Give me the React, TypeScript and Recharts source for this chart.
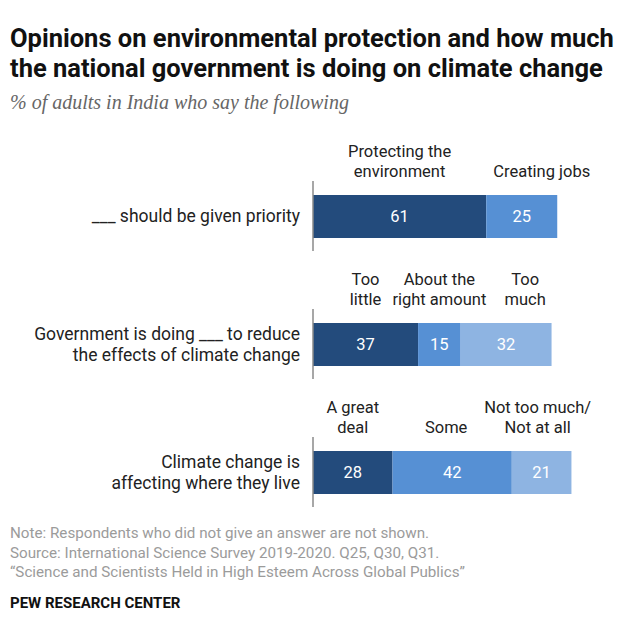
import React from 'react';
import { BarChart, Bar, XAxis, YAxis, LabelList } from 'recharts';

const rowLabels = [
  ['___ should be given priority'],
  ['Government is doing ___ to reduce', 'the effects of climate change'],
  ['Climate change is', 'affecting where they live'],
];
const firstValues = [61, 37, 28];
const secondValues = [25, 15, 42];
const thirdValues: (number | null)[] = [null, 32, 21];
const firstNames = [['Protecting the', 'environment'], ['Too', 'little'], ['A great', 'deal']];
const secondNames = [['Creating jobs'], ['About the', 'right amount'], ['Some']];
const thirdNames: string[][] = [[], ['Too', 'much'], ['Not too much/', 'Not at all']];

const COLORS = ['#234b7c', '#5690d4', '#8eb4e2'];
const FONT = "Roboto, 'Liberation Sans', sans-serif";
// small hand nudges for labels that would otherwise collide
const NAME_NUDGE: Record<string, number> = { 'Creating jobs': 20, 'Too\nmuch': 19, 'Some': -6, 'Not too much/\nNot at all': -4 };

const data = rowLabels.map((label, i) => ({
  row: label.join('\n'),
  v0: firstValues[i],
  v1: secondValues[i],
  v2: thirdValues[i],
  n0: firstNames[i].join('\n'),
  n1: secondNames[i].join('\n'),
  n2: thirdNames[i].join('\n'),
}));

const RowTick = (props: any) => {
  const { x, y, payload } = props;
  const lines = String(payload.value).split('\n');
  const start = y - (lines.length - 1) * 10.5 + 6;
  return (
    <g>
      <line x1={x} x2={x} y1={y - 35} y2={y + 35} stroke="#8a8a8a" strokeWidth={1.5} />
      <text textAnchor="end" fontSize={17.5} fill="#222" fontFamily={FONT}>
        {lines.map((l, i) => (
          <tspan key={i} x={x - 13} y={start + i * 21}>{l}</tspan>
        ))}
      </text>
    </g>
  );
};

const renderName = (p: any) => {
  const { x, y, width, value } = p;
  if (!value) return null;
  const lines = String(value).split('\n');
  const cx = Number(x) + Number(width) / 2 + (NAME_NUDGE[String(value)] || 0);
  const last = Number(y) - 18;
  return (
    <text textAnchor="middle" fontSize={16.5} fill="#222" fontFamily={FONT}>
      {lines.map((l: string, i: number) => (
        <tspan key={i} x={cx} y={last - (lines.length - 1 - i) * 20.5}>{l}</tspan>
      ))}
    </text>
  );
};

export default function App() {
  return (
    <div style={{ position: 'absolute', left: 0, top: 0, width: 640, height: 640, background: '#fff', fontFamily: FONT }}>
      <div style={{ position: 'absolute', left: 10, top: 23, width: 630, fontFamily: 'Roboto, sans-serif', fontWeight: 700, fontSize: 25.5, lineHeight: '30px', color: '#111', whiteSpace: 'nowrap' }}>
        Opinions on environmental protection and how much<br />the national government is doing on climate change
      </div>
      <div style={{ position: 'absolute', left: 10, top: 91, fontFamily: "'Liberation Serif', serif", fontStyle: 'italic', fontSize: 20, color: '#666' }}>
        % of adults in India who say the following
      </div>

      <div style={{ position: 'absolute', left: 0, top: 0 }}>
        <BarChart
          width={640}
          height={536}
          data={data}
          layout="vertical"
          margin={{ top: 152, right: 43, bottom: 0, left: 0 }}
        >
          <XAxis type="number" domain={[0, 100]} hide />
          <YAxis
            type="category"
            dataKey="row"
            width={313}
            axisLine={false}
            tickLine={false}
            tickSize={0}
            tickMargin={0}
            tick={<RowTick />}
            interval={0}
          />
          {['v0', 'v1', 'v2'].map((key, i) => (
            <Bar key={key} dataKey={key} stackId="a" fill={COLORS[i]} barSize={43} isAnimationActive={false}>
              <LabelList dataKey={key} position="center" fill="#fff" fontSize={16.5} fontFamily={FONT} />
              <LabelList dataKey={`n${i}`} content={renderName} />
            </Bar>
          ))}
        </BarChart>
      </div>

      <div style={{ position: 'absolute', left: 10, top: 524, fontSize: 15.2, lineHeight: '19.5px', color: '#9b9b9b', whiteSpace: 'nowrap' }}>
        Note: Respondents who did not give an answer are not shown.<br />
        Source: International Science Survey 2019-2020. Q25, Q30, Q31.<br />
        “Science and Scientists Held in High Esteem Across Global Publics”
      </div>
      <div style={{ position: 'absolute', left: 10, top: 594, fontSize: 15, fontWeight: 700, color: '#111' }}>
        PEW RESEARCH CENTER
      </div>
    </div>
  );
}
